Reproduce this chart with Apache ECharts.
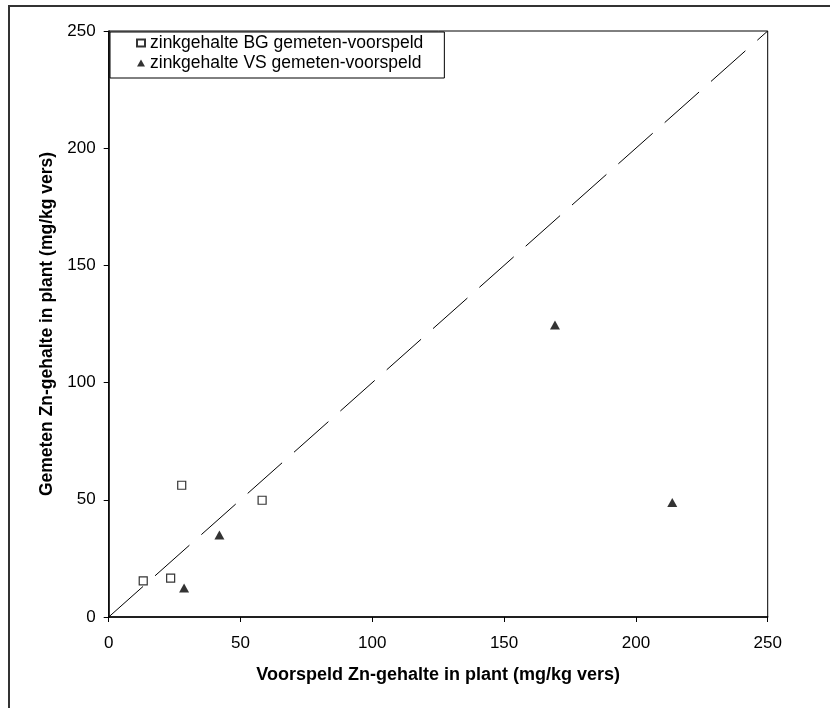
<!DOCTYPE html>
<html>
<head>
<meta charset="utf-8">
<script src="https://cdn.jsdelivr.net/npm/echarts@6/dist/echarts.min.js"></script>
<style>
html,body{margin:0;padding:0;background:#fff;}
#c{width:830px;height:708px;}
</style>
</head>
<body>
<div id="c"></div>
<script>
var bgX = [13.1, 23.5, 27.7, 58.2];
var bgY = [15.4, 16.6, 56.2, 49.8];
var vsX = [28.6, 42.0, 169.3, 213.8];
var vsY = [12.4, 35.0, 124.6, 48.8];
var diagX = [0, 250];
var diagY = [0, 250];
var seriesNames = ['zinkgehalte BG gemeten-voorspeld', 'zinkgehalte VS gemeten-voorspeld'];
var xTitle = 'Voorspeld Zn-gehalte in plant (mg/kg vers)';
var yTitle = 'Gemeten Zn-gehalte in plant (mg/kg vers)';

function pairs(xs, ys){ return xs.map(function(x,i){ return [x, ys[i]]; }); }

var font = 'Liberation Sans, Arial, sans-serif';
var chart = echarts.init(document.getElementById('c'), null, {renderer:'canvas'});
chart.setOption({
  animation:false,
  backgroundColor:'#fff',
  textStyle:{fontFamily:font},
  graphic:[{
    type:'rect', left:8, top:5, silent:true, z:-10,
    shape:{width:900, height:800},
    style:{fill:'#fff', stroke:'#333', lineWidth:2}
  }],
  grid:{left:108.7, right:62.3, top:31, bottom:91, show:true, borderColor:'#000', borderWidth:1, backgroundColor:'transparent'},
  legend:{
    orient:'vertical', left:110, top:32,
    data:[{name:seriesNames[0], icon:'rect'},{name:seriesNames[1], icon:'triangle'}],
    itemWidth:8, itemHeight:7, itemGap:2,
    padding:[2,21,6,26],
    borderColor:'#000', borderWidth:1, backgroundColor:'#fff',
    textStyle:{fontSize:17.5, color:'#000', fontFamily:font}
  },
  xAxis:{
    type:'value', min:0, max:250, interval:50,
    name:xTitle, nameLocation:'middle', nameGap:49,
    nameTextStyle:{fontSize:18, fontWeight:'bold', color:'#000', fontFamily:font},
    axisLine:{show:true, lineStyle:{color:'#000', width:1.5}},
    axisTick:{show:true, length:5, lineStyle:{color:'#000'}},
    axisLabel:{fontSize:17, color:'#000', margin:18, fontFamily:font},
    splitLine:{show:false}
  },
  yAxis:{
    type:'value', min:0, max:250, interval:50,
    name:yTitle, nameLocation:'middle', nameGap:49,
    nameTextStyle:{fontSize:17.5, fontWeight:'bold', color:'#000', fontFamily:font},
    axisLine:{show:true, lineStyle:{color:'#000', width:1.5}},
    axisTick:{show:true, length:5, lineStyle:{color:'#000'}},
    axisLabel:{fontSize:17, color:'#000', margin:13, fontFamily:font},
    splitLine:{show:false}
  },
  series:[
    {
      name:'diag', type:'line', data:pairs(diagX, diagY), symbol:'none', silent:true,
      lineStyle:{color:'#000', width:1, type:[46,16]}, z:1
    },
    {
      name:seriesNames[0], type:'scatter', data:pairs(bgX, bgY),
      symbol:'rect', symbolSize:8,
      itemStyle:{color:'#fff', borderColor:'#000', borderWidth:1.2}, z:3
    },
    {
      name:seriesNames[1], type:'scatter', data:pairs(vsX, vsY),
      symbol:'triangle', symbolSize:[10,9],
      itemStyle:{color:'#000', borderColor:'#000', borderWidth:0}, z:3
    }
  ]
});
</script>
</body>
</html>
